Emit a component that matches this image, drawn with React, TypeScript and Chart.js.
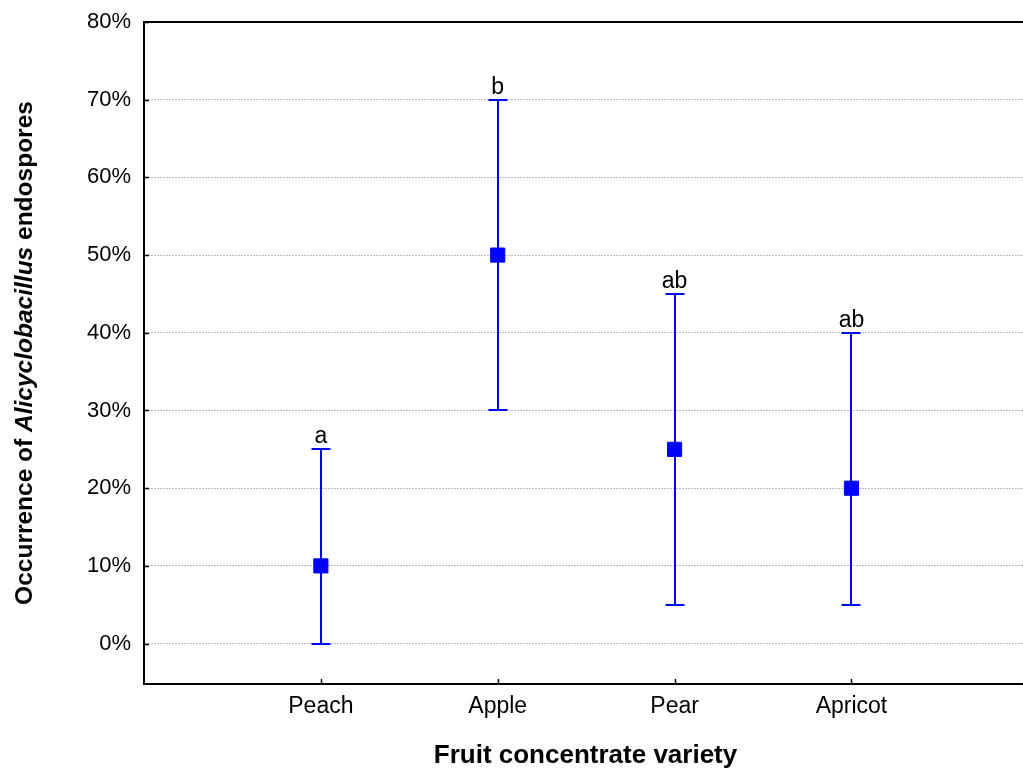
import React, { useEffect, useRef } from 'react';
import { Chart, registerables } from 'chart.js';

Chart.register(...registerables);

const categories = ['Peach', 'Apple', 'Pear', 'Apricot'];
const means = [10, 50, 25, 20];
const lowerBounds = [0, 30, 5, 5];
const upperBounds = [25, 70, 45, 40];
const groupLetters = ['a', 'b', 'ab', 'ab'];
const yTickValues = [0, 10, 20, 30, 40, 50, 60, 70, 80];
const xTitle = 'Fruit concentrate variety';
const yTitleParts = ['Occurrence of ', 'Alicyclobacillus', ' endospores'];

const FONT = "'Liberation Sans', Arial, Helvetica, sans-serif";
const BLUE = '#0000ff';

const customPlugin = {
  id: 'customDecor',
  beforeDatasetsDraw(chart: any) {
    const { ctx, chartArea, scales } = chart;
    const x = scales.x;
    const y = scales.y;
    ctx.save();
    // top frame line
    ctx.strokeStyle = '#000';
    ctx.lineWidth = 2;
    ctx.setLineDash([]);
    ctx.beginPath();
    ctx.moveTo(chartArea.left - 1, chartArea.top);
    ctx.lineTo(chartArea.right, chartArea.top);
    ctx.stroke();
    // inward tick marks
    ctx.lineWidth = 1.5;
    ctx.beginPath();
    yTickValues.forEach((v) => {
      const py = Math.round(y.getPixelForValue(v)) + 0.5;
      ctx.moveTo(chartArea.left, py);
      ctx.lineTo(chartArea.left + 5, py);
    });
    categories.forEach((_c, i) => {
      const px = Math.round(x.getPixelForValue(i + 1)) + 0.5;
      ctx.moveTo(px, chartArea.bottom);
      ctx.lineTo(px, chartArea.bottom - 5);
    });
    ctx.stroke();
    // error bars
    ctx.strokeStyle = BLUE;
    ctx.lineWidth = 2;
    ctx.beginPath();
    means.forEach((_m, i) => {
      const px = Math.round(x.getPixelForValue(i + 1));
      const yl = Math.round(y.getPixelForValue(lowerBounds[i]));
      const yu = Math.round(y.getPixelForValue(upperBounds[i]));
      ctx.moveTo(px, yl);
      ctx.lineTo(px, yu);
      ctx.moveTo(px - 9.5, yl);
      ctx.lineTo(px + 9.5, yl);
      ctx.moveTo(px - 9.5, yu);
      ctx.lineTo(px + 9.5, yu);
    });
    ctx.stroke();
    // group letters
    ctx.fillStyle = '#000';
    ctx.font = `23px ${FONT}`;
    ctx.textAlign = 'center';
    ctx.textBaseline = 'alphabetic';
    groupLetters.forEach((l, i) => {
      const px = x.getPixelForValue(i + 1);
      const yu = y.getPixelForValue(upperBounds[i]);
      ctx.fillText(l, px, yu - 6);
    });
    ctx.restore();
  },
  afterDraw(chart: any) {
    const { ctx, chartArea } = chart;
    ctx.save();
    ctx.fillStyle = '#000';
    ctx.font = `bold 26px ${FONT}`;
    ctx.textAlign = 'center';
    ctx.textBaseline = 'alphabetic';
    ctx.fillText(xTitle, (chartArea.left + chartArea.right) / 2 + 2, 763);

    // y title with italic genus name
    const fonts = [`bold 24.5px ${FONT}`, `italic bold 24.5px ${FONT}`, `bold 24.5px ${FONT}`];
    const widths = yTitleParts.map((t, i) => {
      ctx.font = fonts[i];
      return ctx.measureText(t).width;
    });
    const total = widths.reduce((a, b) => a + b, 0);
    ctx.translate(32, (chartArea.top + chartArea.bottom) / 2);
    ctx.rotate(-Math.PI / 2);
    ctx.textAlign = 'left';
    let cx = -total / 2;
    yTitleParts.forEach((t, i) => {
      ctx.font = fonts[i];
      ctx.fillText(t, cx, 0);
      cx += widths[i];
    });
    ctx.restore();
  },
};

export default function App() {
  const canvasRef = useRef<HTMLCanvasElement | null>(null);

  useEffect(() => {
    const canvas = canvasRef.current;
    if (!canvas) return;
    const chart = new Chart(canvas, {
      type: 'scatter',
      data: {
        datasets: [
          {
            label: 'Occurrence',
            data: means.map((m, i) => ({ x: i + 1, y: m })),
            pointStyle: 'rect',
            pointRadius: 10,
            pointHoverRadius: 10,
            backgroundColor: BLUE,
            borderColor: BLUE,
            borderWidth: 1,
          },
        ],
      },
      options: {
        responsive: false,
        animation: false,
        devicePixelRatio: 1,
        layout: { padding: { top: 22, left: 0, right: 0, bottom: 0 }, autoPadding: false },
        plugins: {
          legend: { display: false },
          tooltip: { enabled: false },
          title: { display: false },
        },
        scales: {
          x: {
            type: 'linear',
            min: 0,
            max: 4.97,
            afterBuildTicks: (scale: any) => {
              scale.ticks = categories.map((_c, i) => ({ value: i + 1 }));
            },
            afterFit: (scale: any) => {
              scale.height = 87;
              scale.paddingLeft = 0;
              scale.paddingRight = 0;
            },
            grid: { display: false, drawTicks: false },
            border: { display: true, color: '#000', width: 2 },
            ticks: {
              padding: 9,
              color: '#000',
              font: { family: FONT, size: 23 },
              callback: (v: any) => categories[Math.round(v) - 1] ?? '',
              maxRotation: 0,
              autoSkip: false,
            },
          },
          y: {
            type: 'linear',
            min: -5.2,
            max: 80,
            afterBuildTicks: (scale: any) => {
              scale.ticks = yTickValues.map((v) => ({ value: v }));
            },
            afterFit: (scale: any) => {
              scale.width = 144;
              scale.paddingTop = 0;
              scale.paddingBottom = 0;
            },
            grid: {
              drawTicks: false,
              lineWidth: 1,
              color: (c: any) => (c.tick && c.tick.value === 80 ? 'rgba(0,0,0,0)' : '#bcbcbc'),
            },
            border: { display: true, color: '#000', width: 2, dash: [2, 1] },
            ticks: {
              padding: 13,
              color: '#000',
              font: { family: FONT, size: 22 },
              callback: (v: any) => `${v}%`,
              autoSkip: false,
            },
          },
        },
      },
      plugins: [customPlugin],
    } as any);
    return () => chart.destroy();
  }, []);

  return (
    <div style={{ position: 'absolute', left: 0, top: 0, width: 1023, height: 771 }}>
      <canvas ref={canvasRef} width={1023} height={771} style={{ display: 'block' }} />
    </div>
  );
}
